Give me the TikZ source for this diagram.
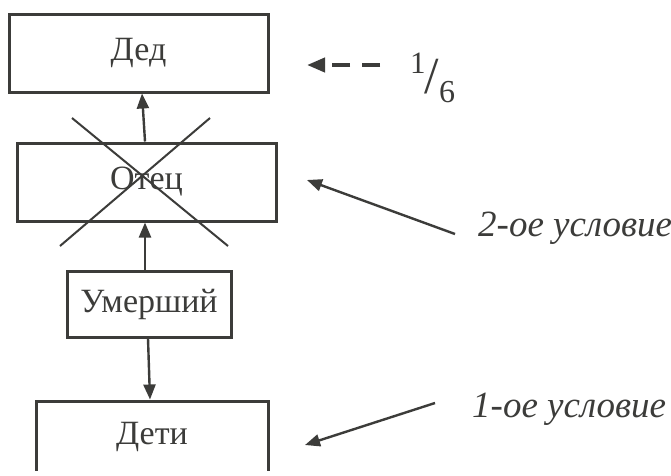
\documentclass[tikz,border=0pt]{standalone}
\usepackage{fontspec}
\setmainfont{Liberation Serif}
\usetikzlibrary{arrows.meta}
\definecolor{ink}{HTML}{3C3C3A}
\begin{document}
\begin{tikzpicture}[x=1pt,y=-1pt,
  box/.style={draw=ink,line width=3pt,text=ink,inner sep=0pt,
    font=\fontsize{34}{34}\selectfont},
  arr/.style={draw=ink,line width=2.4pt,-{Triangle[length=15pt,width=12pt]}},
  cross/.style={draw=ink,line width=2pt},
  lab/.style={text=ink,inner sep=0pt,anchor=west,font=\fontsize{37}{37}\selectfont\itshape}]
\useasboundingbox (0,0) rectangle (671,475);
\fill[white] (0,0) rectangle (671,475);
\clip (-10,-10) rectangle (690,470);
\node[box,minimum width=259pt,minimum height=78pt] (ded) at (138.5,53) {Дед};
\node[box,minimum width=259pt,minimum height=78pt] (otec) at (146.5,182) {Отец};
\node[box,minimum width=164pt,minimum height=66pt] (umer) at (149,304) {Умерший};
\node[box,minimum width=232pt,minimum height=72pt] (deti) at (152,437) {Дети};
\coordinate (c1a) at (72,118); \coordinate (c1b) at (228,246);
\coordinate (c2a) at (210,118); \coordinate (c2b) at (60,246);
\draw[cross] (c1a) -- (c1b);
\draw[cross] (c2a) -- (c2b);
\draw[arr] ([xshift=-1.5pt]otec.north) -- ([xshift=3.5pt]ded.south);
\draw[arr] ([xshift=-4pt]umer.north) -- ([xshift=-1.5pt]otec.south);
\draw[arr] ([xshift=-1pt]umer.south) -- ([xshift=-2pt]deti.north);
% fraction label
\node[text=ink,inner sep=0pt,anchor=base west] (frac) at (410,93)
  {\fontsize{31}{31}\selectfont\raisebox{20pt}{1}\kern-1pt{\fontsize{52}{52}\selectfont/}\kern0pt\raisebox{-9pt}{\fontsize{32}{32}\selectfont 6}};
\coordinate (t0) at (307,65);
\draw[draw=ink,line width=4pt,dash pattern=on 18pt off 12pt,-{Triangle[length=18pt,width=14pt]}]
  (380,65) -- (t0);
\node[lab] (cond2) at (478,228) {2-ое условие};
\node[lab] (cond1) at (472,409) {1-ое условие};
\coordinate (t2) at (307,180);
\coordinate (t1) at (305,445);
\draw[arr] ([xshift=-23pt,yshift=-6pt]cond2.west) -- (t2);
\draw[arr] ([xshift=-37pt,yshift=6pt]cond1.west) -- (t1);
\end{tikzpicture}
\end{document}
